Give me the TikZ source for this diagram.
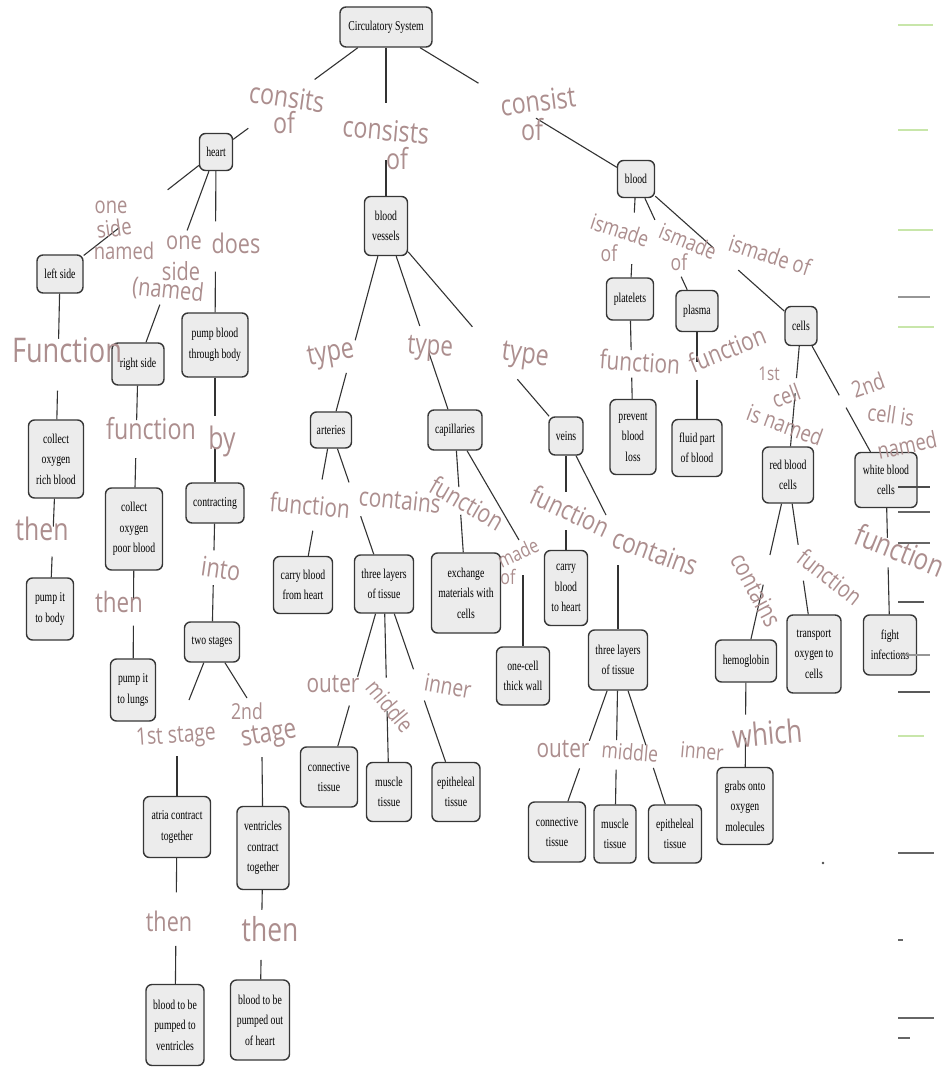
\documentclass[tikz,border=0pt]{standalone}
\usepackage{fontspec}
\usetikzlibrary{calc}
\newfontfamily\printfont[FakeStretch=0.72]{Liberation Serif}
\newfontfamily\handfont[FakeStretch=0.8]{Open Sans}
\definecolor{ink}{RGB}{172,142,142}
\definecolor{boxfill}{RGB}{236,236,236}
\definecolor{boxline}{RGB}{55,55,55}
\definecolor{scanA}{RGB}{150,150,150}
\definecolor{scanB}{RGB}{200,230,170}

\tikzset{
  box/.style 2 args={draw=boxline, line width=1.4pt, fill=boxfill, rounded corners=6pt,
    minimum width=#1pt, minimum height=#2pt, inner sep=1pt, align=center,
    font=\printfont\fontsize{13.5}{20.5}\selectfont, text=black},
  conn/.style={draw=black!80, line width=1.1pt},
  hw/.style={text=ink, inner sep=0pt, align=center, font=\handfont\fontsize{#1}{#1}\selectfont},
  hw/.default=26,
}
% a printed link with a blank left in it for the written label
\newcommand\lnk[4]{%
  \draw[conn] (#1) -- ($(#1)!#3!(#2)$);
  \draw[conn] ($(#1)!#4!(#2)$) -- (#2);}

\begin{document}
\begin{tikzpicture}[x=1pt,y=-1pt]
\fill[white] (0,0) rectangle (950,1067);
\useasboundingbox (0,0) rectangle (950,1067);

% ---------- printed concept boxes ----------
\node[box={92}{40}] (cs) at (386,27) {Circulatory System};
\node[box={33}{37}] (heart) at (216,152) {heart};
\node[box={43}{59}] (bv) at (386,226) {blood\\vessels};
\node[box={37}{37}] (blood) at (636,179) {blood};

\node[box={46}{38}] (left) at (60,274) {left side};
\node[box={52}{42}] (right) at (138,364) {right side};
\node[box={66}{64}] (pump) at (215,345) {pump blood\\through body};
\node[box={55}{78}] (rich) at (56,459) {collect\\oxygen\\rich blood};
\node[box={47}{62}] (body) at (50,609) {pump it\\to body};
\node[box={57}{82}] (poor) at (134,529) {collect\\oxygen\\poor blood};
\node[box={45}{62}] (lungs) at (133,690) {pump it\\to lungs};
\node[box={58}{40}] (contr) at (215,503) {contracting};
\node[box={55}{40}] (two) at (212,642) {two stages};
\node[box={67}{61}] (atria) at (177,827) {atria contract\\together};
\node[box={52}{83}] (vent) at (263,848) {ventricles\\contract\\together};
\node[box={58}{81}] (btv) at (175,1025) {blood to be\\pumped to\\ventricles};
\node[box={59}{80}] (bout) at (260,1020) {blood to be\\pumped out\\of heart};

\node[box={41}{36}] (art) at (331,430) {arteries};
\node[box={54}{40}] (cap) at (455,430) {capillaries};
\node[box={34}{38}] (veins) at (566,436) {veins};
\node[box={59}{57}] (cfh) at (303,585) {carry blood\\from heart};
\node[box={59}{58}] (tla) at (384,584) {three layers\\of tissue};
\node[box={69}{80}] (exch) at (466,593) {exchange\\materials with\\cells};
\node[box={53}{58}] (one) at (523,676) {one-cell\\thick wall};
\node[box={43}{75}] (cbh) at (566,588) {carry\\blood\\to heart};
\node[box={59}{60}] (tlv) at (618,660) {three layers\\of tissue};
\node[box={57}{60}] (conna) at (329,777) {connective\\tissue};
\node[box={45}{59}] (musca) at (389,792) {muscle\\tissue};
\node[box={48}{59}] (epia) at (456,792) {epitheleal\\tissue};
\node[box={57}{60}] (connv) at (557,832) {connective\\tissue};
\node[box={42}{58}] (muscv) at (615,834) {muscle\\tissue};
\node[box={53}{58}] (epiv) at (675,834) {epitheleal\\tissue};

\node[box={47}{42}] (plat) at (630,299) {platelets};
\node[box={42}{41}] (plasma) at (697,311) {plasma};
\node[box={32}{39}] (cells) at (801,326) {cells};
\node[box={46}{75}] (prev) at (633,437) {prevent\\blood\\loss};
\node[box={50}{57}] (fluid) at (697,448) {fluid part\\of blood};
\node[box={51}{56}] (rbc) at (788,475) {red blood\\cells};
\node[box={62}{55}] (wbc) at (886,480) {white blood\\cells};
\node[box={61}{42}] (hemo) at (746,661) {hemoglobin};
\node[box={54}{78}] (trans) at (814,654) {transport\\oxygen to\\cells};
\node[box={53}{60}] (fight) at (890,645) {fight\\infections};
\node[box={56}{77}] (grabs) at (745,806) {grabs onto\\oxygen\\molecules};

% ---------- printed links ----------
\lnk{cs}{heart}{0.42}{0.81}
\lnk{cs}{bv}{0.38}{0.67}
\lnk{cs}{blood}{0.37}{0.60}
\lnk{heart}{left}{0.31}{0.62}
\lnk{heart}{right}{0.37}{0.72}
\lnk{heart}{pump}{0.36}{0.62}
\lnk{left}{rich}{0.35}{0.63}
\lnk{rich}{body}{0.45}{0.65}
\lnk{right}{poor}{0.34}{0.57}
\lnk{poor}{lungs}{0.44}{0.60}
\lnk{pump}{contr}{0.45}{0.65}
\lnk{contr}{two}{0.34}{0.59}
\coordinate (k13a) at (189,700);
\coordinate (k13b) at (177,756);
\draw[conn] (two) -- (k13a);
\draw[conn] (k13b) -- (atria);
\coordinate (k14a) at (247,698);
\coordinate (k14b) at (262,757);
\draw[conn] (two) -- (k14a);
\draw[conn] (k14b) -- (vent);
\lnk{atria}{btv}{0.33}{0.60}
\lnk{vent}{bout}{0.36}{0.65}

\lnk{bv}{art}{0.56}{0.72}
\lnk{bv}{cap}{0.49}{0.62}
\lnk{bv}{veins}{0.48}{0.73}
\lnk{art}{cfh}{0.32}{0.65}
\lnk{art}{tla}{0.34}{0.56}
\lnk{cap}{exch}{0.35}{0.52}
\coordinate (k23a) at (519,540);
\coordinate (k23b) at (523,575);
\draw[conn] (cap) -- (k23a);
\draw[conn] (k23b) -- (one);
\lnk{veins}{cbh}{0.37}{0.62}
\coordinate (k25a) at (606,515);
\coordinate (k25b) at (618,565);
\draw[conn] (veins) -- (k25a);
\draw[conn] (k25b) -- (tlv);
\lnk{tla}{conna}{0.48}{0.63}
\lnk{tla}{musca}{0.45}{0.61}
\lnk{tla}{epia}{0.41}{0.56}
\lnk{tlv}{connv}{0.47}{0.63}
\lnk{tlv}{muscv}{0.46}{0.63}
\lnk{tlv}{epiv}{0.49}{0.62}

\lnk{blood}{plat}{0.28}{0.71}
\lnk{blood}{plasma}{0.31}{0.74}
\lnk{blood}{cells}{0.47}{0.62}
\lnk{plat}{prev}{0.37}{0.57}
\lnk{plasma}{fluid}{0.37}{0.50}
\lnk{cells}{rbc}{0.35}{0.45}
\lnk{cells}{wbc}{0.45}{0.53}
\lnk{rbc}{hemo}{0.43}{0.59}
\lnk{rbc}{trans}{0.39}{0.59}
\lnk{wbc}{fight}{0.35}{0.53}
\lnk{hemo}{grabs}{0.37}{0.53}

% ---------- written link labels ----------
\node[hw=29, rotate=-8] (w1a) at (287,97) {consits};
\node[hw=29] (w1b) at (284,123) {of};
\node[hw=29, rotate=-5] (w2a) at (386,130) {consists};
\node[hw=29] (w2b) at (397,159) {of};
\node[hw=29, rotate=7] (w3a) at (538,101) {consist};
\node[hw=29] (w3b) at (532,130) {of};

\node[hw=23] (w4a) at (111,207) {one};
\node[hw=23, rotate=8] (w4b) at (114,228) {side};
\node[hw=23] (w4c) at (124,251) {named};
\node[hw=25] (w5a) at (184,243) {one};
\node[hw=25] (w5b) at (181,271) {side};
\node[hw=25, rotate=-6] (w5c) at (168,291) {(named};
\node[hw=27] (w6) at (236,243) {does};
\node[hw=34] (w7) at (67,350) {Function};
\node[hw=31] (w8) at (42,529) {then};
\node[hw=29] (w9) at (151,429) {function};
\node[hw=28] (w10) at (119,602) {then};
\node[hw=31] (w11) at (222,441) {by};
\node[hw=27, rotate=-8] (w12) at (221,569) {into};
\node[hw=24, rotate=4] (w13) at (176,737) {1st stage};
\node[hw=22] (w14a) at (247,711) {2nd};
\node[hw=28, rotate=10] (w14b) at (269,736) {stage};
\node[hw=27] (w15) at (169,921) {then};
\node[hw=33] (w16) at (270,929) {then};

\node[hw=29, rotate=10] (w17) at (331,355) {type};
\node[hw=28, rotate=-4] (w18) at (430,349) {type};
\node[hw=29, rotate=-8] (w19) at (525,357) {type};
\node[hw=26, rotate=-5] (w20) at (310,505) {function};
\node[hw=26, rotate=-6] (w21) at (400,500) {contains};
\node[hw=26, rotate=-30] (w22) at (467,503) {function};
\node[hw=20, rotate=25] (w23a) at (518,553) {made};
\node[hw=20] (w23b) at (508,577) {of};
\node[hw=27, rotate=-25] (w24) at (570,511) {function};
\node[hw=28, rotate=-20] (w25) at (655,552) {contains};
\node[hw=26] (w26) at (333,684) {outer};
\node[hw=23, rotate=-50] (w27) at (390,706) {middle};
\node[hw=24, rotate=-10] (w28) at (448,686) {inner};
\node[hw=26] (w29) at (563,749) {outer};
\node[hw=22, rotate=-5] (w30) at (630,752) {middle};
\node[hw=22, rotate=-5] (w31) at (702,751) {inner};

\node[hw=22, rotate=-18] (w32a) at (620,230) {ismade};
\node[hw=22] (w32b) at (609,253) {of};
\node[hw=22, rotate=-22] (w33a) at (688,241) {ismade};
\node[hw=22] (w33b) at (679,262) {of};
\node[hw=23, rotate=-18] (w34) at (770,255) {ismade of};
\node[hw=26, rotate=-4] (w35) at (640,362) {function};
\node[hw=26, rotate=22] (w36) at (727,349) {function};
\node[hw=19] (w37a) at (769,374) {1st};
\node[hw=23, rotate=20] (w37b) at (786,396) {cell};
\node[hw=23, rotate=-20] (w37c) at (785,425) {is named};
\node[hw=23, rotate=20] (w38a) at (868,385) {2nd};
\node[hw=23, rotate=-8] (w38b) at (891,415) {cell is};
\node[hw=23, rotate=12] (w38c) at (907,445) {named};
\node[hw=25, rotate=-62] (w39) at (756,590) {contains};
\node[hw=24, rotate=-38] (w40) at (830,577) {function};
\node[hw=30, rotate=-22] (w41) at (900,550) {function};
\node[hw=32, rotate=5] (w42) at (767,733) {which};

% ---------- scanner marks along the right edge ----------
\foreach \y/\c/\l in {25/scanB/35, 130/scanB/30, 230/scanB/35, 297/scanA/32, 327/scanB/36,
  487/black!70/32, 512/black!60/32, 543/black!60/32, 602/black!65/26, 655/scanA/32,
  692/black!65/32, 736/scanB/26, 853/black!60/36, 940/black!60/5, 1018/black!60/36, 1038/black!60/12}
  \draw[\c, line width=1.2pt] (898,\y) -- ++(\l,0);
\fill[black!70] (823,863) circle (1.3pt);
\end{tikzpicture}
\end{document}
